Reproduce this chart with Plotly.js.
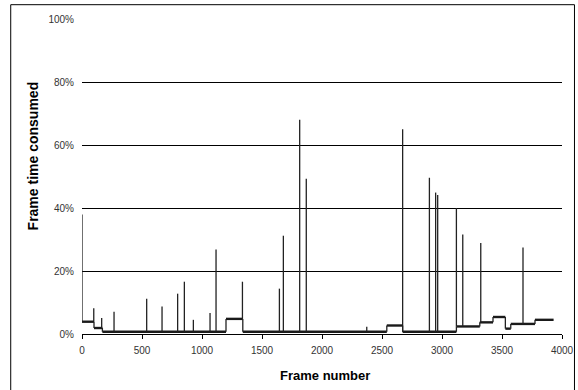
<!DOCTYPE html>
<html>
<head>
<meta charset="utf-8">
<script src="https://cdn.plot.ly/plotly-3.0.1.min.js"></script>
<style>
html,body{margin:0;padding:0;overflow:hidden;background:#fff;}
#chart{width:578px;height:390px;}
</style>
</head>
<body>
<div id="chart"></div>
<script>
// Step levels of the frame time (start frame of each level, % consumed)
const levelStart = [0, 100, 170, 1200, 1340, 2540, 2672, 3120, 3315, 3425, 3528, 3573, 3775];
const levelValue = [3.9, 1.9, 0.7, 4.8, 0.7, 2.7, 0.7, 2.4, 3.7, 5.4, 1.7, 3.2, 4.5];
const lastFrame = 3930;

// Spikes: frame number and peak % consumed
const spikeFrames = [0, 98, 164, 267, 539, 667, 797, 853, 928, 1067, 1117, 1337, 1645, 1678, 1814, 1869, 2373, 2672, 2895, 2947, 2964, 3120, 3173, 3323, 3675];
const spikeHeights = [37.9, 8.2, 5.1, 7.1, 11.2, 8.7, 12.8, 16.6, 4.5, 6.7, 26.8, 16.6, 14.4, 31.2, 68, 49.3, 2.3, 65, 49.6, 44.9, 44.1, 40, 31.6, 28.9, 27.5];

const xTicks = [0, 500, 1000, 1500, 2000, 2500, 3000, 3500, 4000];
const yTicks = [0, 20, 40, 60, 80, 100];

function levelAt(f) {
  let v = levelValue[0];
  for (let i = 0; i < levelStart.length; i++) {
    if (levelStart[i] <= f) v = levelValue[i];
  }
  return v;
}

// horizontal level segments (thick, like the noisy band)
const hx = [], hy = [];
levelStart.forEach((s, i) => {
  const e = i + 1 < levelStart.length ? levelStart[i + 1] : lastFrame;
  hx.push(s, e, null);
  hy.push(levelValue[i], levelValue[i], null);
});

// thin vertical lines: level transitions and spikes
const vx = [], vy = [];
levelStart.forEach((s, i) => {
  if (i > 0) { vx.push(s, s, null); vy.push(levelValue[i - 1], levelValue[i], null); }
});
spikeFrames.forEach((f, i) => {
  vx.push(f, f, null);
  vy.push(levelAt(f), spikeHeights[i], null);
});

const font = "Liberation Sans, Arial, Helvetica, sans-serif";

const traces = [
  {x: hx, y: hy, type: 'scatter', mode: 'lines', line: {color: '#1a1a1a', width: 2.4}, hoverinfo: 'skip'},
  {x: vx, y: vy, type: 'scatter', mode: 'lines', line: {color: '#222', width: 1.3}, hoverinfo: 'skip'}
];

const layout = {
  width: 578, height: 390,
  margin: {l: 82, r: 16, t: 19, b: 56},
  paper_bgcolor: '#fff', plot_bgcolor: '#fff',
  showlegend: false,
  font: {family: font, color: '#333', size: 10},
  xaxis: {
    range: [0, 4000], tickvals: xTicks, ticktext: xTicks.map(String),
    showgrid: false, zeroline: false, showline: true, linecolor: '#000', linewidth: 1,
    ticks: 'outside', ticklen: 4, tickcolor: '#000', tickwidth: 1, ticklabelstandoff: 3,
    tickfont: {size: 10, color: '#333'}
  },
  yaxis: {
    range: [0, 100], tickvals: yTicks, ticktext: yTicks.map(v => v + '%'),
    showgrid: true, gridcolor: '#000', gridwidth: 1, zeroline: false, showline: false,
    ticks: '', ticklabelstandoff: 7,
    tickfont: {size: 10, color: '#333'}
  },
  annotations: [
    {text: '<b>Frame time consumed</b>', xref: 'paper', yref: 'paper', x: -0.1027, y: 0.566,
     xanchor: 'center', yanchor: 'middle', textangle: -90, showarrow: false,
     font: {family: font, size: 14, color: '#000'}},
    {text: '<b>Frame number</b>', xref: 'paper', yref: 'paper', x: 0.507, y: -0.131,
     xanchor: 'center', yanchor: 'middle', showarrow: false,
     font: {family: font, size: 13, color: '#000'}}
  ],
  shapes: [
    {type: 'rect', xref: 'paper', yref: 'paper', x0: -0.1485, x1: 1.026, y0: -0.2, y1: 1.0454,
     line: {color: '#000', width: 1}, fillcolor: 'rgba(0,0,0,0)', layer: 'below'}
  ]
};

Plotly.newPlot('chart', traces, layout, {staticPlot: true, displayModeBar: false});
</script>
</body>
</html>
